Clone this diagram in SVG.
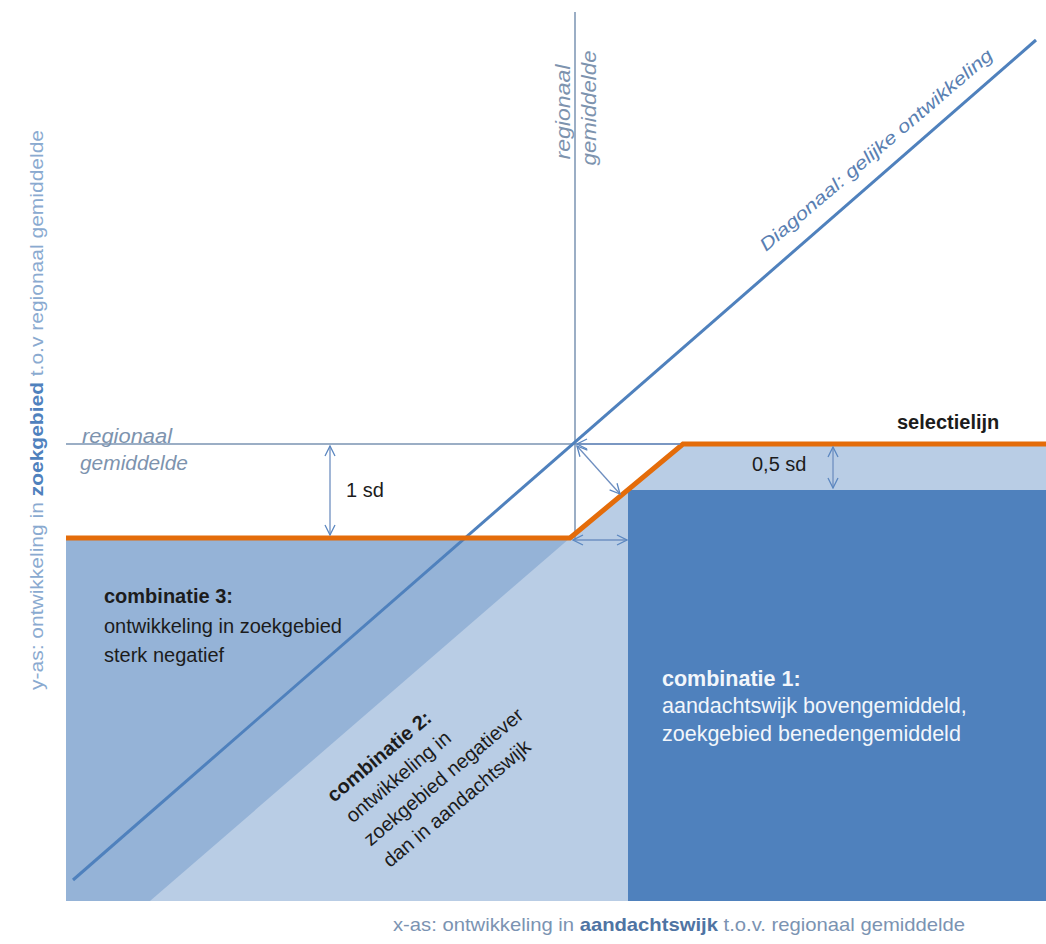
<svg xmlns="http://www.w3.org/2000/svg" width="1046" height="944" viewBox="0 0 1046 944">
<style>
text{font-family:"Liberation Sans","Noto Sans",sans-serif}
.guide{stroke:#7a93b2;stroke-width:1.5;fill:none}
.arr{stroke:#6f8fc0;stroke-width:1.3;fill:none;marker-start:url(#v);marker-end:url(#v)}
.it{font-style:italic;fill:#7d93ae;font-size:20px}
.blk{fill:#1c1c1c;font-size:20px}
.wht{fill:#f2f6fb;font-size:21.5px}
.b{font-weight:bold}
</style>
<defs>
<marker id="v" viewBox="0 0 12 12" refX="11" refY="6" markerWidth="12" markerHeight="12" markerUnits="userSpaceOnUse" orient="auto-start-reverse">
<path d="M1,1 L11,6 L1,11" fill="none" stroke="#5b87c0" stroke-width="1.3"/>
</marker>
</defs>
<rect width="1046" height="944" fill="#ffffff"/>
<g id="region-light"><polygon points="66,538 570,538 683,444 1046,444 1046,901 66,901" fill="#b9cde5"/></g>
<g id="combinatie-3"><polygon points="66,538 570,538 150,901 66,901" fill="#95b3d7"/>
<text class="blk" x="104" y="603"><tspan class="b">combinatie 3:</tspan><tspan x="104" dy="30">ontwikkeling in zoekgebied</tspan><tspan x="104" dy="29">sterk negatief</tspan></text></g>
<g id="combinatie-1"><rect x="628" y="490" width="418" height="411" fill="#4f81bd"/>
<text class="wht" x="662" y="686"><tspan class="b">combinatie 1:</tspan><tspan x="662" dy="27">aandachtswijk bovengemiddeld,</tspan><tspan x="662" dy="28">zoekgebied benedengemiddeld</tspan></text></g>
<g id="combinatie-2"><text class="blk" transform="translate(334,803) rotate(-40)" font-size="21"><tspan class="b" x="0" y="0">combinatie 2:</tspan><tspan x="1" y="28">ontwikkeling  in</tspan><tspan x="0" y="57">zoekgebied negatiever</tspan><tspan x="1" y="86">dan in aandachtswijk</tspan></text></g>
<g id="connectors">
<line class="guide" x1="66" y1="444" x2="1046" y2="444"/>
<line class="guide" x1="575" y1="12" x2="575" y2="540"/>
<line x1="73" y1="880" x2="1036" y2="40" stroke="#4f81bd" stroke-width="3"/>
<path d="M66,538 L570,538 L683,444 L1046,444" fill="none" stroke="#e46c0a" stroke-width="5"/>
<line class="arr" x1="330" y1="446" x2="330" y2="535"/>
<line class="arr" x1="833" y1="447" x2="833" y2="488"/>
<line class="arr" x1="577" y1="446" x2="620" y2="494"/>
<line class="arr" x1="573" y1="540" x2="627" y2="540"/>
<line class="arr" x1="577" y1="444" x2="680" y2="444" style="marker-end:none"/>
</g>
<g id="labels">
<text class="it" transform="translate(570,112) rotate(-90)" text-anchor="middle" textLength="95" lengthAdjust="spacingAndGlyphs">regionaal</text>
<text class="it" transform="translate(596,108) rotate(-90)" text-anchor="middle" textLength="115" lengthAdjust="spacingAndGlyphs">gemiddelde</text>
<text class="it" x="82" y="443" textLength="90" lengthAdjust="spacingAndGlyphs">regionaal</text>
<text class="it" x="80" y="470" textLength="108" lengthAdjust="spacingAndGlyphs">gemiddelde</text>
<text transform="translate(766,252) rotate(-40.5)" font-size="18" font-style="italic" fill="#5a80b2" textLength="300" lengthAdjust="spacingAndGlyphs">Diagonaal: gelijke ontwikkeling</text>
<text class="blk b" x="897" y="429">selectielijn</text>
<text class="blk" x="346" y="497">1 sd</text>
<text class="blk" x="752" y="471">0,5 sd</text>
<text transform="translate(43,410) rotate(-90)" text-anchor="middle" font-size="18.5" fill="#8aaad0" textLength="560" lengthAdjust="spacingAndGlyphs">y-as: ontwikkeling in <tspan font-weight="bold" fill="#4f81bd">zoekgebied</tspan> t.o.v regionaal gemiddelde</text>
<text x="393" y="931" font-size="18.5" fill="#7b93b2" textLength="572" lengthAdjust="spacingAndGlyphs">x-as: ontwikkeling in <tspan font-weight="bold" fill="#4f74a3">aandachtswijk</tspan> t.o.v. regionaal gemiddelde</text>
</g>
</svg>
